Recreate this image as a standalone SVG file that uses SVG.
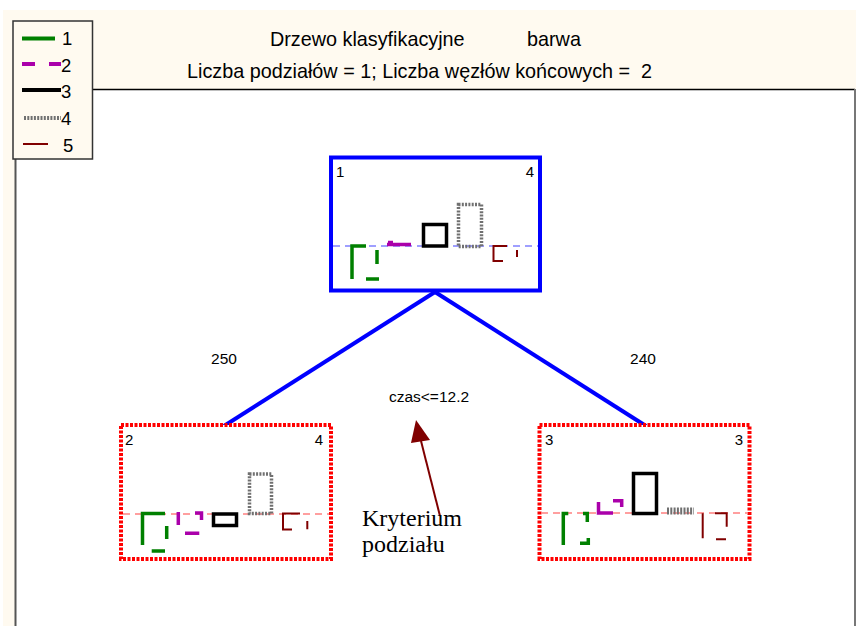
<svg xmlns="http://www.w3.org/2000/svg" width="856" height="626" viewBox="0 0 856 626">
<defs>
<style>
text{font-family:"Liberation Sans",Arial,sans-serif;fill:#000}
.title{font-size:19.8px}
.lg{font-size:18.5px}
.nl{font-size:15px}
.el{font-size:15.5px}
.g{fill:none;stroke-linecap:butt}
.c1{stroke:#008000;stroke-width:3.5}
.c2{stroke:#AA00AA;stroke-width:3.5}
.c3{stroke:#000;stroke-width:3.5}
.c4{stroke:#707070;stroke-width:3.5;stroke-dasharray:2 1.3}
.c5{stroke:#800000;stroke-width:2}
.base-b{stroke:#8080FF;stroke-width:1.5;stroke-dasharray:7 5;fill:none}
.base-r{stroke:#FF8080;stroke-width:1.5;stroke-dasharray:7 5;fill:none}
.nroot{fill:#fff;stroke:#0000FF;stroke-width:4}
.nleaf{fill:#fff;stroke:#FF0000;stroke-width:4;stroke-dasharray:3 1.5}
.edge{stroke:#0000FF;stroke-width:4;fill:none}
.serif{font-family:"Liberation Serif","Times New Roman",serif;font-size:24px}
</style>
</defs>
<!-- background -->
<rect x="3" y="10" width="853" height="616" fill="#FFFAF0"/>
<rect x="15" y="89.5" width="840" height="537" fill="#fff"/>
<line x1="15" y1="89.5" x2="855" y2="89.5" stroke="#000" stroke-width="1.5"/>
<line x1="15.5" y1="89" x2="15.5" y2="626" stroke="#555" stroke-width="2"/>
<line x1="855" y1="89" x2="855" y2="626" stroke="#777" stroke-width="2"/>

<!-- title -->
<g id="title">
<text class="title" x="270" y="46">Drzewo klasyfikacyjne</text>
<text class="title" x="527" y="46">barwa</text>
<text class="title" x="187" y="78" xml:space="preserve">Liczba podziałów = 1; Liczba węzłów końcowych =  2</text>
</g>

<!-- legend -->
<g id="legend">
<rect x="13" y="21" width="79.5" height="138" fill="#FFFAF0" stroke="#333" stroke-width="1.5"/>
<line x1="22" y1="38.5" x2="55" y2="38.5" stroke="#008000" stroke-width="4"/>
<path d="M22,64 H35 M49,64 H61" stroke="#AA00AA" stroke-width="4" fill="none"/>
<line x1="22" y1="90" x2="61" y2="90" stroke="#000" stroke-width="4"/>
<line x1="24" y1="118" x2="61" y2="118" stroke="#707070" stroke-width="4" stroke-dasharray="2 1.3"/>
<line x1="23" y1="144" x2="48" y2="144" stroke="#800000" stroke-width="2"/>
<text class="lg" x="62" y="45">1</text>
<text class="lg" x="61" y="72">2</text>
<text class="lg" x="61" y="98">3</text>
<text class="lg" x="61" y="125">4</text>
<text class="lg" x="63" y="152">5</text>
</g>

<!-- connectors -->
<g id="connectors">
<line class="edge" x1="435" y1="292" x2="224" y2="426"/>
<line class="edge" x1="435" y1="292" x2="646" y2="426"/>
<text class="el" x="224" y="364" text-anchor="middle">250</text>
<text class="el" x="643" y="364" text-anchor="middle">240</text>
<text class="el" x="429" y="402" text-anchor="middle">czas&lt;=12.2</text>
<line x1="440" y1="516" x2="421" y2="441" stroke="#800000" stroke-width="2"/>
<polygon points="416,420 430,440 411,443" fill="#800000"/>
<text class="serif" x="362" y="526">Kryterium</text>
<text class="serif" x="362" y="552">podziału</text>
</g>

<!-- root node -->
<g id="node-1">
<rect class="nroot" x="331" y="157.5" width="209" height="133"/>
<text class="nl" x="336" y="177">1</text>
<text class="nl" x="534" y="177" text-anchor="end">4</text>
<line class="base-b" x1="333" y1="246" x2="538" y2="246"/>
<path class="g c1" d="M366,246 H352 V279 M377,250 V264 M366,279 H379"/>
<path class="g c2" d="M387,244.5 H411 M388,242.5 H393"/>
<rect class="g c3" x="423.5" y="224.5" width="23" height="21.5"/>
<rect class="g c4" x="458.5" y="204.5" width="23" height="42"/>
<path class="g c5" d="M507,246 H493.5 V261 H503 M517,250 V257"/>
</g>

<!-- left node -->
<g id="node-2">
<rect class="nleaf" x="121" y="425" width="210" height="134"/>
<text class="nl" x="125" y="445">2</text>
<text class="nl" x="323" y="445" text-anchor="end">4</text>
<line class="base-r" x1="123" y1="514" x2="329" y2="514"/>
<path class="g c1" d="M165,513.5 H142.5 V545 M166.7,526 V539 M151.7,551 H165"/>
<path class="g c2" d="M178.3,512 V525 M195,513 H201.5 V520 M185,533.3 H199.3"/>
<rect class="g c3" x="213.5" y="514" width="23" height="11.5"/>
<rect class="g c4" x="249.5" y="474" width="22" height="39.5"/>
<path class="g c5" d="M300,513.5 H283 V529.5 H292 M307.3,521 V529.3"/>
</g>

<!-- right node -->
<g id="node-3">
<rect class="nleaf" x="539.5" y="425" width="210" height="134"/>
<text class="nl" x="545" y="445">3</text>
<text class="nl" x="743" y="445" text-anchor="end">3</text>
<line class="base-r" x1="541" y1="513" x2="748" y2="513"/>
<path class="g c1" d="M568.3,513.5 H563.3 V545 M583,513.5 H587.3 V522 M580,543.3 H588.3 V538"/>
<path class="g c2" d="M598.5,502 V513 H613 M613,500.7 H621.7 V507"/>
<rect class="g c3" x="633.5" y="473.5" width="23" height="40"/>
<line x1="667" y1="511" x2="694" y2="511" stroke="#707070" stroke-width="7" stroke-dasharray="2 1.3"/>
<path class="g c5" d="M702.7,513.3 V538.3 M715,513.3 H726.7 V526.7 M716,539.3 H726"/>
</g>
</svg>
